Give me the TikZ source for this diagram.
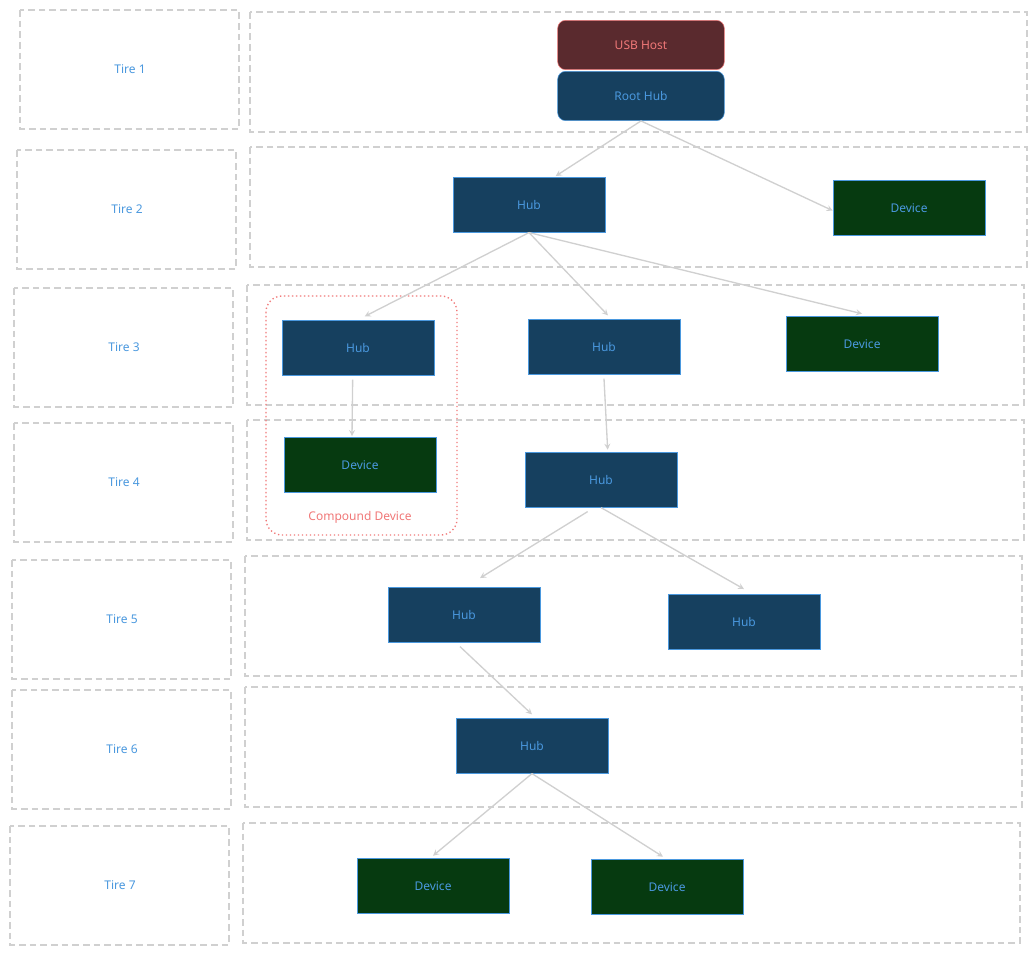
\documentclass[tikz,border=0pt]{standalone}
\usepackage{fontspec}
\setmainfont{Noto Sans}
\definecolor{tierblue}{HTML}{4A98DE}
\definecolor{hubfill}{HTML}{16405F}
\definecolor{devfill}{HTML}{063A10}
\definecolor{hostfill}{HTML}{5A2A2E}
\definecolor{hostred}{HTML}{F07878}
\definecolor{lanegray}{HTML}{D0D0D0}
\begin{document}
\begin{tikzpicture}[x=0.75pt, y=-0.75pt, font=\small,
    lane/.style={draw=lanegray, dashed, line width=1pt, dash pattern=on 5pt off 3pt},
    tier/.style={text=tierblue},
    hub/.style={draw=tierblue, fill=hubfill, text=tierblue, minimum width=114pt, minimum height=41pt, inner sep=0pt},
    dev/.style={hub, fill=devfill},
    link/.style={draw=lanegray, line width=1pt, ->, >=stealth}]
    \useasboundingbox (0,0) rectangle (1036,955);
    %% tiers
    \foreach \i/\lx/\ly/\rx/\ry in {1/20/10/250/12, 2/17/150/250/147, 3/14/288/247/285,
        4/14/423/247/420, 5/12/560/245/556, 6/12/690/245/687, 7/10/826/243/823} {
      \draw[lane] (\lx,\ly) rectangle ++(219,119);
      \draw[lane] (\rx,\ry) rectangle ++(777,120);
      \node[tier] (tier\i) at (\lx+110,\ly+59) {Tire \i};
    }
    %% compound device
    \draw[hostred, dotted, line width=1pt, rounded corners=12pt] (266,296) rectangle (457,535);
    \node[text=hostred] (compound) at (360,517) {Compound Device};
    %% nodes
    \node[hub, fill=hostfill, draw=hostred, text=hostred, rounded corners=6pt, minimum width=125pt, minimum height=37pt] (host) at (641,45) {USB Host};
    \node[hub, rounded corners=6pt, minimum width=125pt, minimum height=37pt] (root) at (641,96) {Root Hub};
    \node[hub] (hubA) at (529,205) {Hub};
    \node[dev] (devA) at (909,208) {Device};
    \node[hub] (hubB) at (358,348) {Hub};
    \node[hub] (hubC) at (604,347) {Hub};
    \node[dev] (devB) at (862,344) {Device};
    \node[dev] (devC) at (360,465) {Device};
    \node[hub] (hubD) at (601,480) {Hub};
    \node[hub] (hubE) at (464,615) {Hub};
    \node[hub] (hubF) at (744,622) {Hub};
    \node[hub] (hubG) at (532,746) {Hub};
    \node[dev] (devD) at (433,886) {Device};
    \node[dev] (devE) at (667,887) {Device};
    %% links
    \draw[link] (root.south) -- ([xshift=20pt,yshift=1pt]hubA.north);
    \draw[link] (root.south) -- ([yshift=-2pt]devA.west);
    \draw[link] (hubA.south) -- ([xshift=5pt,yshift=3pt]hubB.north);
    \draw[link] (hubA.south) -- ([xshift=3pt,yshift=3pt]hubC.north);
    \draw[link] (hubA.south) -- ([yshift=2pt]devB.north);
    \draw[link] ([xshift=-4pt,yshift=-3pt]hubB.south) -- ([xshift=-6pt,yshift=1pt]devC.north);
    \draw[link] ([yshift=-3pt]hubC.south) -- ([xshift=5pt,yshift=2pt]hubD.north);
    \draw[link] ([xshift=-10pt,yshift=-3pt]hubD.south) -- ([xshift=12pt,yshift=7pt]hubE.north);
    \draw[link] (hubD.south) -- ([yshift=4pt]hubF.north);
    \draw[link] ([xshift=-3pt,yshift=-3pt]hubE.south) -- ([yshift=3pt]hubG.north);
    \draw[link] (hubG.south) -- ([yshift=2pt]devD.north);
    \draw[link] (hubG.south) -- ([xshift=-3pt,yshift=2pt]devE.north);
\end{tikzpicture}
\end{document}
